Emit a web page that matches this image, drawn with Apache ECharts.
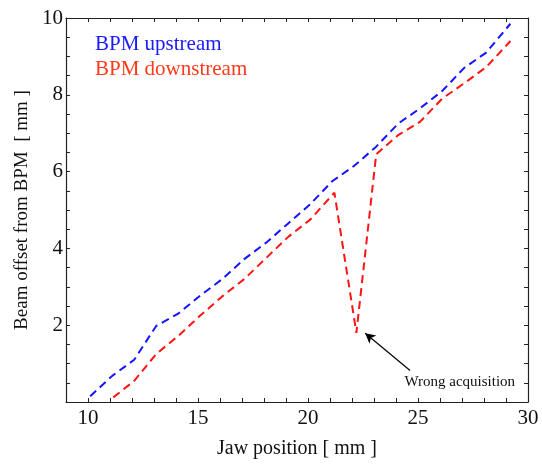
<!DOCTYPE html>
<html>
<head>
<meta charset="utf-8">
<script src="https://cdn.jsdelivr.net/npm/echarts@6/dist/echarts.min.js"></script>
<style>html,body{margin:0;padding:0;background:#fff}#c{width:542px;height:464px}</style>
</head>
<body>
<div id="c"></div>
<script>
// Jaw position [mm] and beam offset [mm]
const upX = [10.1, 11.1, 12.1, 13.1, 14.1, 15.1, 16.1, 17.1, 18.1, 19.1, 20.1, 21.1, 22.1, 23.1, 24.1, 25.1, 26.1, 27.1, 28.1, 29.2];
const upY = [0.15, 0.68, 1.1, 1.98, 2.3, 2.77, 3.2, 3.72, 4.15, 4.65, 5.15, 5.75, 6.15, 6.65, 7.25, 7.65, 8.1, 8.7, 9.1, 9.85];
const downX = [11.15, 12.1, 13.1, 14.1, 15.1, 16.1, 17.1, 18.1, 19.1, 20.1, 21.2, 22.2, 23.1, 24.1, 25.1, 26.1, 27.1, 28.1, 29.2];
const downY = [0.12, 0.55, 1.25, 1.72, 2.25, 2.75, 3.2, 3.75, 4.3, 4.75, 5.45, 1.8, 6.45, 6.95, 7.3, 7.9, 8.3, 8.72, 9.4];
const xTickLabels = [10, 15, 20, 25, 30];
const yTickLabels = [2, 4, 6, 8, 10];
const arrowFrom = [24.64, 0.82];
const arrowTo = [22.6, 1.79];
const noteAt = [26.9, 0.52];
const noteText = 'Wrong acquisition';

const FONT = '"Liberation Serif", "DejaVu Serif", serif';
const BLUE = '#1414ff';
const RED = '#ff1414';
const zip = (a, b) => a.map((v, i) => [v, b[i]]);

const chart = echarts.init(document.getElementById('c'));
const axisCommon = {
  axisLine: { show: true, onZero: false, lineStyle: { color: '#222', width: 1.2 } },
  axisTick: { show: true, inside: true, length: 4, lineStyle: { color: '#222', width: 1 } },
  splitLine: { show: false }
};
chart.setOption({
  animation: false,
  backgroundColor: '#fff',
  grid: { left: 66, right: 14, top: 18, bottom: 56 },
  legend: {
    orient: 'vertical', left: 85, top: 29, icon: 'none', itemWidth: 0, itemHeight: 14, itemGap: 4,
    selectedMode: false,
    textStyle: { fontFamily: FONT, fontSize: 21, lineHeight: 21 },
    data: [
      { name: 'BPM upstream', textStyle: { color: '#1a1aff' } },
      { name: 'BPM downstream', textStyle: { color: '#ff3a1a' } }
    ]
  },
  xAxis: [
    Object.assign({}, axisCommon, {
      type: 'value', min: 9, max: 30, interval: 1, position: 'bottom',
      name: 'Jaw position [ mm ]', nameLocation: 'middle', nameGap: 37,
      nameTextStyle: { fontFamily: FONT, fontSize: 20, color: '#111' },
      axisLabel: {
        fontFamily: FONT, fontSize: 21, color: '#111', margin: 6,
        formatter: v => xTickLabels.includes(v) ? String(v) : ''
      }
    }),
    Object.assign({}, axisCommon, {
      type: 'value', min: 9, max: 30, interval: 1, position: 'top', axisLabel: { show: false }
    })
  ],
  yAxis: [
    Object.assign({}, axisCommon, {
      type: 'value', min: 0, max: 10, interval: 0.5, position: 'left',
      name: 'Beam offset from BPM  [ mm ]', nameLocation: 'middle', nameGap: 34,
      nameTextStyle: { fontFamily: FONT, fontSize: 19, color: '#111' },
      axisLabel: {
        fontFamily: FONT, fontSize: 21, color: '#111', margin: 3,
        formatter: v => yTickLabels.includes(v) ? String(v) : ''
      }
    }),
    Object.assign({}, axisCommon, {
      type: 'value', min: 0, max: 10, interval: 0.5, position: 'right', axisLabel: { show: false }
    })
  ],
  series: [
    {
      name: 'BPM upstream', type: 'line', data: zip(upX, upY), showSymbol: false,
      color: BLUE, lineStyle: { color: BLUE, width: 2, type: [8, 5] }
    },
    {
      name: 'BPM downstream', type: 'line', data: zip(downX, downY), showSymbol: false,
      color: RED, lineStyle: { color: RED, width: 2, type: [8, 5] },
      markLine: {
        silent: true, symbol: ['none', 'arrow'], symbolSize: [8, 10],
        lineStyle: { color: '#000', width: 1.2, type: 'solid' },
        label: { show: false },
        data: [[{ coord: arrowFrom }, { coord: arrowTo }]]
      },
      markPoint: {
        silent: true, symbol: 'circle', symbolSize: 0,
        label: { show: true, formatter: noteText, fontFamily: FONT, fontSize: 15, color: '#111', position: 'inside' },
        data: [{ coord: noteAt }]
      }
    }
  ]
});
</script>
</body>
</html>
